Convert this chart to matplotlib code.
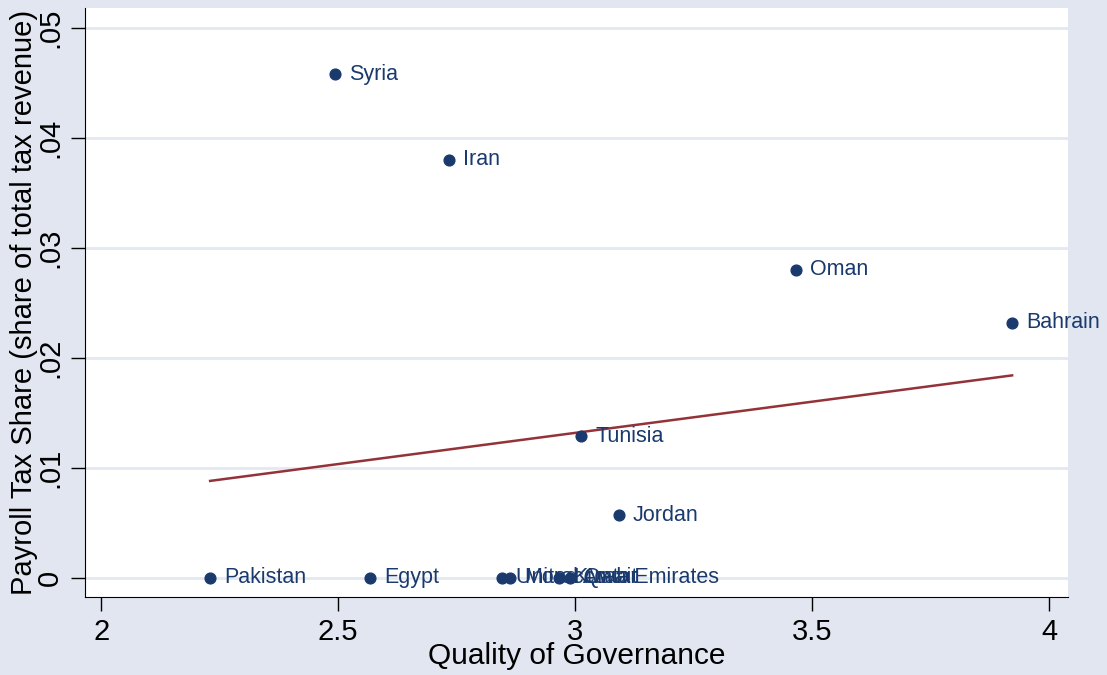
import matplotlib
matplotlib.use("Agg")
import matplotlib.pyplot as plt
import numpy as np

countries = ["Syria", "Iran", "Oman", "Bahrain", "Tunisia", "Jordan", "Pakistan", "Egypt",
             "United Arab Emirates", "Morocco", "Kuwait", "Qatar"]
governance = [2.494, 2.734, 3.466, 3.922, 3.013, 3.093, 2.230, 2.567, 2.845, 2.863, 2.966, 2.990]
payroll_share = [0.0458, 0.0380, 0.0280, 0.0232, 0.0129, 0.0057, 0.0, 0.0, 0.0, 0.0, 0.0, 0.0]

x_ticks = [2, 2.5, 3, 3.5, 4]
x_ticklabels = ["2", "2.5", "3", "3.5", "4"]
y_ticks = [0, 0.01, 0.02, 0.03, 0.04, 0.05]
y_ticklabels = ["0", ".01", ".02", ".03", ".04", ".05"]

navy = "#1a3a6e"
maroon = "#943238"
bg = "#e1e6f0"
grid = "#e4e9f1"

plt.rcParams["font.family"] = ["Liberation Sans", "DejaVu Sans"]

fig = plt.figure(figsize=(11.07, 6.75), dpi=100, facecolor=bg)
ax = fig.add_axes([0.0768, 0.1156, 0.888, 0.8724])
ax.set_facecolor("white")

x = np.array(governance)
y = np.array(payroll_share)
b, a = np.polyfit(x, y, 1)
xs = np.array([x.min(), x.max()])
ax.plot(xs, a + b * xs, color=maroon, lw=1.8, zorder=2)

ax.scatter(x, y, s=60, color=navy, zorder=3)
for name, xi, yi in zip(countries, governance, payroll_share):
    ax.annotate(name, (xi, yi), xytext=(10, 0), textcoords="offset points",
                va="center", ha="left", fontsize=15.5, color=navy, zorder=4)

ax.set_xlim(1.966, 4.04)
ax.set_ylim(-0.00173, 0.0518)
ax.set_xticks(x_ticks)
ax.set_xticklabels(x_ticklabels, fontsize=21)
ax.set_yticks(y_ticks)
ax.set_yticklabels(y_ticklabels, rotation=90, va="center", fontsize=21)
ax.tick_params(axis="both", direction="out", length=10, width=1, pad=5)
ax.grid(axis="y", color=grid, lw=2)
ax.set_axisbelow(True)

for s in ["top", "right"]:
    ax.spines[s].set_visible(False)
ax.spines["left"].set_color("black")
ax.spines["bottom"].set_color("black")

ax.set_xlabel("Quality of Governance", fontsize=21.5, labelpad=-3)
ax.set_ylabel("Payroll Tax Share (share of total tax revenue)", fontsize=21, labelpad=-1)

fig.savefig("out.png", dpi=100, facecolor=bg)
